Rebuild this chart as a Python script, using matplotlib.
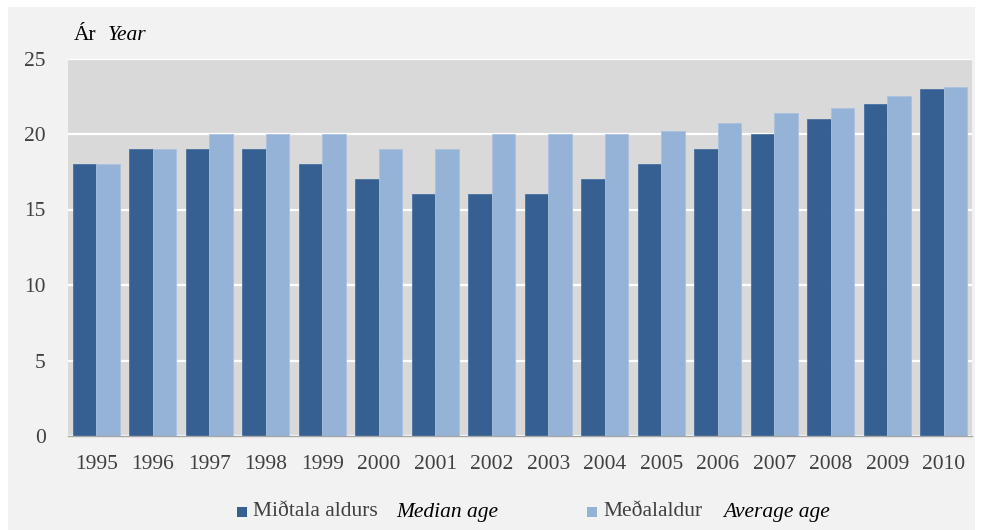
import matplotlib.pyplot as plt
import numpy as np
from matplotlib.patches import Rectangle

years = ['1995', '1996', '1997', '1998', '1999', '2000', '2001', '2002',
         '2003', '2004', '2005', '2006', '2007', '2008', '2009', '2010']
median_age = [18, 19, 19, 19, 18, 17, 16, 16, 16, 17, 18, 19, 20, 21, 22, 23]
average_age = [18, 19, 20, 20, 20, 19, 19, 20, 20, 20, 20.2, 20.7, 21.4, 21.7, 22.5, 23.1]
yticks = [0, 5, 10, 15, 20, 25]

dark = '#366092'
light = '#95b3d7'
txt = '#404040'
fs = 15.5

plt.rcParams['font.family'] = ['Liberation Serif', 'DejaVu Serif']

fig = plt.figure(figsize=(9.81, 5.30), dpi=100, facecolor='white')
# light grey panel behind the chart
fig.patches.append(Rectangle((8 / 981, 0), 967 / 981, 523 / 530,
                             transform=fig.transFigure, facecolor='#f2f2f2',
                             edgecolor='none', zorder=-1))

ax = fig.add_axes([68 / 981, (530 - 436) / 530, 904 / 981, (436 - 58.5) / 530])
ax.set_facecolor('#d9d9d9')

x = np.arange(len(years))
w = 0.415
ax.bar(x - w / 2, median_age, w, color=dark, edgecolor='#4a72a3', linewidth=0.6, zorder=3)
ax.bar(x + w / 2, average_age, w, color=light, edgecolor='#a9c1df', linewidth=0.6, zorder=3)

ax.set_xlim(-0.5, len(years) - 0.5)
ax.set_ylim(0, 25)
ax.set_yticks(yticks)
ax.set_yticklabels([str(v) for v in yticks])
ax.set_xticks(x)
ax.set_xticklabels(years)
ax.tick_params(axis='both', length=0, labelsize=fs, labelcolor=txt)
ax.tick_params(axis='y', pad=16)
ax.tick_params(axis='x', pad=14)
ax.grid(axis='y', color='white', linewidth=1.6, zorder=1)
ax.set_axisbelow(True)
for s in ['top', 'right', 'left']:
    ax.spines[s].set_visible(False)
ax.spines['bottom'].set_color('#a6a6a6')
ax.spines['bottom'].set_linewidth(1.0)
ax.spines['bottom'].set_zorder(4)

# axis title
fig.text(74 / 981, 1 - 35 / 530, 'Ár', fontsize=fs, color='black', va='center')
fig.text(108 / 981, 1 - 35 / 530, 'Year', fontsize=fs, style='italic', color='black', va='center')

# legend
ly = 1 - 512 / 530
sq = 10
fig.patches.append(Rectangle((237 / 981, ly - sq / 2 / 530), sq / 981, sq / 530,
                             transform=fig.transFigure, facecolor=dark, edgecolor='none'))
fig.text(253 / 981, ly, 'Miðtala aldurs', fontsize=fs, color=txt, va='center')
fig.text(396 / 981, ly, 'Median age', fontsize=fs, style='italic', color='black', va='center')
fig.patches.append(Rectangle((587 / 981, ly - sq / 2 / 530), sq / 981, sq / 530,
                             transform=fig.transFigure, facecolor=light, edgecolor='none'))
fig.text(603 / 981, ly, 'Meðalaldur', fontsize=fs, color=txt, va='center')
fig.text(723 / 981, ly, 'Average age', fontsize=fs, style='italic', color='black', va='center')

fig.savefig('out.png', dpi=100, facecolor=fig.get_facecolor())
